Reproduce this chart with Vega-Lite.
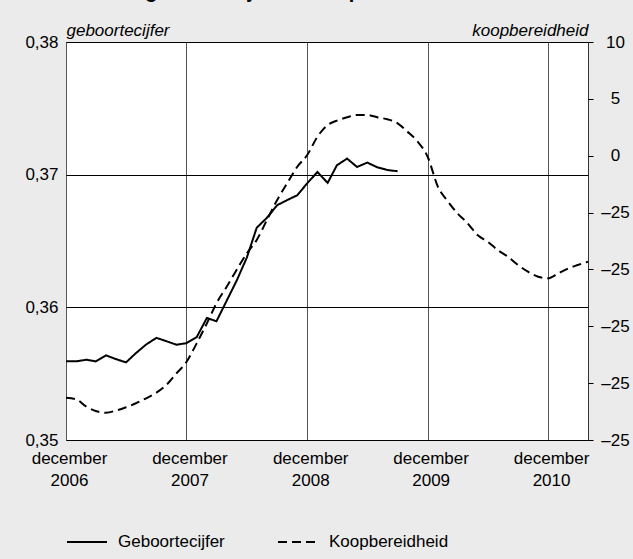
{
  "$schema": "https://vega.github.io/schema/vega-lite/v6.json",
  "autosize": {"type": "none"},
  "width": 522,
  "height": 398,
  "padding": {"left": 66, "top": 42, "right": 45, "bottom": 119},
  "background": "#ebebeb",
  "title": {
    "text": "II  Gehinkeerd geboortecijfer en koopbereidheid",
    "anchor": "start",
    "frame": "group",
    "dx": -53,
    "offset": 3,
    "baseline": "alphabetic",
    "font": "Liberation Sans",
    "fontSize": 20,
    "fontWeight": "bold",
    "color": "black"
  },
  "config": {
    "font": "Liberation Sans",
    "view": {"fill": "white", "stroke": "#333", "strokeWidth": 1},
    "axis": {"labelFont": "Liberation Sans", "labelFontSize": 17, "labelColor": "black", "titleFont": "Liberation Sans", "titleFontSize": 17, "titleFontWeight": "normal", "titleFontStyle": "italic", "titleColor": "black", "domain": false}
  },
  "data": {"values": [
    {"date": "2006-12-01", "geb": 0.35593, "koop": -21.28},
    {"date": "2007-01-01", "geb": 0.35593, "koop": -21.42},
    {"date": "2007-02-01", "geb": 0.35605, "koop": -22.07},
    {"date": "2007-03-01", "geb": 0.35593, "koop": -22.45},
    {"date": "2007-04-01", "geb": 0.35638, "koop": -22.60},
    {"date": "2007-05-01", "geb": 0.35610, "koop": -22.42},
    {"date": "2007-06-01", "geb": 0.35585, "koop": -22.12},
    {"date": "2007-07-01", "geb": 0.35655, "koop": -21.77},
    {"date": "2007-08-01", "geb": 0.35720, "koop": -21.33},
    {"date": "2007-09-01", "geb": 0.35770, "koop": -20.84},
    {"date": "2007-10-01", "geb": 0.35745, "koop": -20.16},
    {"date": "2007-11-01", "geb": 0.35718, "koop": -19.13},
    {"date": "2007-12-01", "geb": 0.35730, "koop": -18.14},
    {"date": "2008-01-01", "geb": 0.35775, "koop": -16.50},
    {"date": "2008-02-01", "geb": 0.35920, "koop": -14.74},
    {"date": "2008-03-01", "geb": 0.35895, "koop": -12.98},
    {"date": "2008-04-01", "geb": 0.36050, "koop": -11.52},
    {"date": "2008-05-01", "geb": 0.36200, "koop": -10.05},
    {"date": "2008-06-01", "geb": 0.36375, "koop": -8.58},
    {"date": "2008-07-01", "geb": 0.36600, "koop": -7.41},
    {"date": "2008-08-01", "geb": 0.36675, "koop": -5.65},
    {"date": "2008-09-01", "geb": 0.36770, "koop": -3.89},
    {"date": "2008-10-01", "geb": 0.36808, "koop": -2.43},
    {"date": "2008-11-01", "geb": 0.36845, "koop": -0.97},
    {"date": "2008-12-01", "geb": 0.36935, "koop": 0.06},
    {"date": "2009-01-01", "geb": 0.37020, "koop": 1.67},
    {"date": "2009-02-01", "geb": 0.36938, "koop": 2.70},
    {"date": "2009-03-01", "geb": 0.37071, "koop": 3.08},
    {"date": "2009-04-01", "geb": 0.37121, "koop": 3.38},
    {"date": "2009-05-01", "geb": 0.37058, "koop": 3.58},
    {"date": "2009-06-01", "geb": 0.37091, "koop": 3.58},
    {"date": "2009-07-01", "geb": 0.37056, "koop": 3.38},
    {"date": "2009-08-01", "geb": 0.37035, "koop": 3.20},
    {"date": "2009-09-01", "geb": 0.37026, "koop": 2.85},
    {"date": "2009-10-01", "geb": null, "koop": 2.11},
    {"date": "2009-11-01", "geb": null, "koop": 1.23},
    {"date": "2009-12-01", "geb": null, "koop": -0.09},
    {"date": "2010-01-01", "geb": null, "koop": -2.72},
    {"date": "2010-02-01", "geb": null, "koop": -4.04},
    {"date": "2010-03-01", "geb": null, "koop": -5.06},
    {"date": "2010-04-01", "geb": null, "koop": -5.94},
    {"date": "2010-05-01", "geb": null, "koop": -6.97},
    {"date": "2010-06-01", "geb": null, "koop": -7.56},
    {"date": "2010-07-01", "geb": null, "koop": -8.29},
    {"date": "2010-08-01", "geb": null, "koop": -8.88},
    {"date": "2010-09-01", "geb": null, "koop": -9.61},
    {"date": "2010-10-01", "geb": null, "koop": -10.20},
    {"date": "2010-11-01", "geb": null, "koop": -10.64},
    {"date": "2010-12-01", "geb": null, "koop": -10.78},
    {"date": "2011-01-01", "geb": null, "koop": -10.34},
    {"date": "2011-02-01", "geb": null, "koop": -9.90},
    {"date": "2011-03-01", "geb": null, "koop": -9.61},
    {"date": "2011-04-01", "geb": null, "koop": -9.32}
  ]},
  "encoding": {
    "x": {
      "field": "date", "type": "temporal",
      "scale": {"type": "utc", "domain": [{"year": 2006, "month": 12, "date": 1, "utc": true}, {"year": 2011, "month": 4, "date": 1, "utc": true}]},
      "axis": {
        "title": null,
        "values": [
          {"year": 2006, "month": 12, "date": 1, "utc": true},
          {"year": 2007, "month": 12, "date": 1, "utc": true},
          {"year": 2008, "month": 12, "date": 1, "utc": true},
          {"year": 2009, "month": 12, "date": 1, "utc": true},
          {"year": 2010, "month": 12, "date": 1, "utc": true}
        ],
        "labelExpr": "['december', utcFormat(datum.value, '%Y')]",
        "ticks": false,
        "labelPadding": 10,
        "labelOffset": 3,
        "labelLineHeight": 22,
        "labelFlush": false,
        "labelOverlap": false,
        "labelBaseline": "top",
        "gridColor": "#555",
        "gridOpacity": 1,
        "gridWidth": 1
      }
    }
  },
  "layer": [
    {
      "mark": {"type": "line", "stroke": "black", "strokeWidth": 2, "interpolate": "linear"},
      "encoding": {
        "y": {
          "field": "geb", "type": "quantitative",
          "scale": {"domain": [0.35, 0.38], "nice": false, "zero": false},
          "axis": {
            "orient": "left",
            "title": "geboortecijfer",
            "titleAngle": 0,
            "titleX": 0,
            "titleY": -7,
            "titleAlign": "left",
            "titleBaseline": "alphabetic",
            "values": [0.35, 0.36, 0.37, 0.38],
            "labelExpr": "replace(format(datum.value, '.2f'), '.', ',')",
            "ticks": false,
            "labelPadding": 8,
            "labelFlush": false,
            "gridColor": "black",
            "gridOpacity": 1,
            "gridWidth": 1
          }
        },
        "strokeDash": {
          "datum": "Geboortecijfer",
          "scale": {"domain": ["Geboortecijfer", "Koopbereidheid"], "range": [[1, 0], [9, 5]]},
          "legend": {
            "title": null,
            "orient": "none",
            "direction": "horizontal",
            "legendX": 0,
            "legendY": 479,
            "symbolType": "stroke",
            "symbolSize": 1600,
            "symbolStrokeWidth": 2,
            "symbolStrokeColor": "black",
            "labelFont": "Liberation Sans",
            "labelFontSize": 17,
            "labelColor": "black",
            "labelOffset": 10,
            "columnPadding": 49
          }
        }
      }
    },
    {
      "mark": {"type": "line", "stroke": "black", "strokeWidth": 2, "interpolate": "monotone"},
      "encoding": {
        "y": {
          "field": "koop", "type": "quantitative",
          "scale": {"domain": [-25, 10], "nice": false, "zero": false},
          "axis": {
            "orient": "right",
            "title": "koopbereidheid",
            "titleAngle": 0,
            "titleX": 0,
            "titleY": -7,
            "titleAlign": "right",
            "titleBaseline": "alphabetic",
            "values": [-25, -20, -15, -10, -5, 0, 5, 10],
            "labelExpr": "datum.value < 0 ? '–25' : format(datum.value, 'd')",
            "grid": false,
            "ticks": true,
            "tickSize": 5,
            "tickColor": "black",
            "labelAlign": "center",
            "labelPadding": 22,
            "labelFlush": false
          }
        },
        "strokeDash": {"datum": "Koopbereidheid"}
      }
    }
  ],
  "resolve": {"scale": {"y": "independent"}}
}
